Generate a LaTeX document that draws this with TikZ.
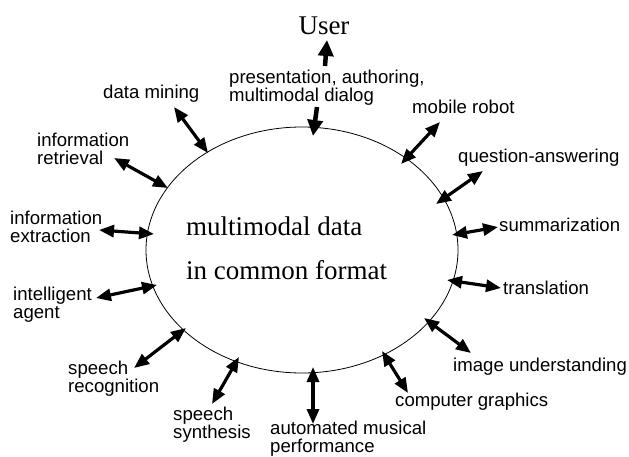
\documentclass[tikz,border=0pt]{standalone}
\usepackage{fontspec}
\setmainfont{Liberation Serif}
\newfontfamily\lsans{Liberation Sans}
\usetikzlibrary{arrows.meta}
\tikzset{
  lbl/.style={anchor=base west, inner sep=0pt, align=left, font=\lsans\fontsize{18.6}{18}\selectfont},
  big/.style={inner sep=0pt, font=\fontsize{27}{30}\selectfont},
  dbl/.style={line width=3.2pt, {Triangle[length=15pt,width=12pt]}-{Triangle[length=15pt,width=12pt]}},
  sgl/.style={line width=4.5pt, -{Triangle[length=16pt,width=15pt]}},
}
\begin{document}
\begin{tikzpicture}[x=1pt,y=-1pt]
\useasboundingbox (0,0) rectangle (629,457);
\draw[line width=0.8pt] (302,250) ellipse [x radius=156, y radius=123];
\node[big, anchor=base west] (c1) at (186,236) {multimodal data};
\node[big, anchor=base west] (c2) at (186,279) {in common format};
\node[big, anchor=base] (user) at (324,35) {User};

\node[lbl] (pres) at (229,102) {presentation, authoring,\\multimodal dialog};
\node[lbl] (dm) at (103,99) {data mining};
\node[lbl] (ir) at (37,165) {information\\retrieval};
\node[lbl] (ie) at (10,243) {information\\extraction};
\node[lbl] (ia) at (13,318) {intelligent\\agent};
\node[lbl] (sr) at (68,392) {speech\\recognition};
\node[lbl] (ss) at (173,438) {speech\\synthesis};
\node[lbl] (am) at (270,452) {automated musical\\performance};
\node[lbl] (cg) at (395,406) {computer graphics};
\node[lbl] (iu) at (453,371) {image understanding};
\node[lbl] (tr) at (503,294) {translation};
\node[lbl] (su) at (499,231) {summarization};
\node[lbl] (qa) at (458,163) {question-answering};
\node[lbl] (mr) at (412,114) {mobile robot};

\coordinate (u1) at (325,66); \coordinate (u2) at (327,40);
\coordinate (p1) at (317,107); \coordinate (p2) at (313,136);
\coordinate (dm1) at (174,107); \coordinate (dm2) at (208,153);
\coordinate (ir1) at (114,158); \coordinate (ir2) at (168,188);
\coordinate (ie1) at (99,230); \coordinate (ie2) at (154,234);
\coordinate (ia1) at (96,298); \coordinate (ia2) at (157,285);
\coordinate (sr1) at (134,368); \coordinate (sr2) at (186,328);
\coordinate (ss1) at (212,404); \coordinate (ss2) at (239,357);
\coordinate (am1) at (313,424); \coordinate (am2) at (313,367);
\coordinate (cg1) at (408,393); \coordinate (cg2) at (382,351);
\coordinate (iu1) at (471,353); \coordinate (iu2) at (424,318);
\coordinate (tr1) at (501,288); \coordinate (tr2) at (447,280);
\coordinate (su1) at (498,227); \coordinate (su2) at (452,235);
\coordinate (qa1) at (483,171); \coordinate (qa2) at (436,204);
\coordinate (mr1) at (440,122); \coordinate (mr2) at (401,164);

\draw[sgl] (u1) -- (u2);
\draw[sgl] (p1) -- (p2);
\foreach \a in {dm,ir,ie,ia,sr,ss,am,cg,iu,tr,su,qa,mr}
  \draw[dbl] (\a1) -- (\a2);
\end{tikzpicture}
\end{document}
